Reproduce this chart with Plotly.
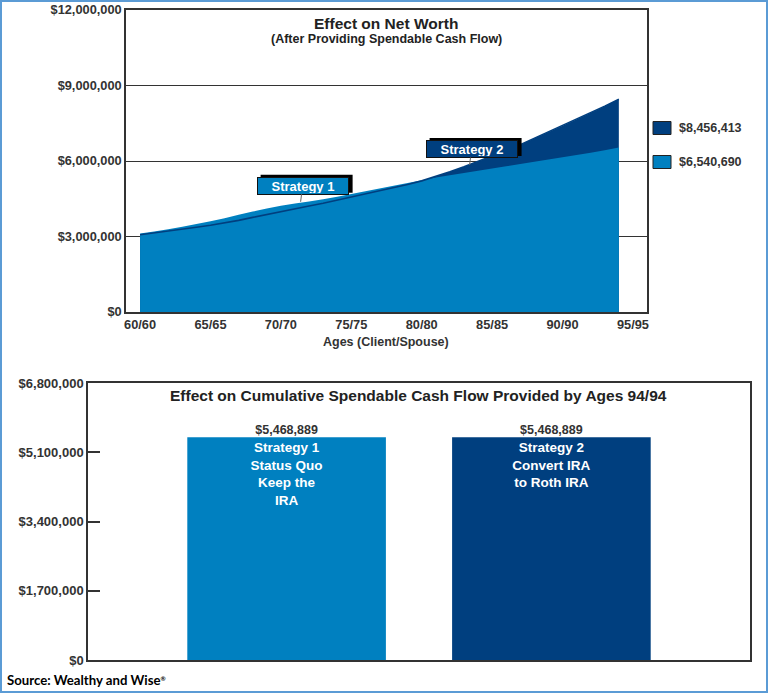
import plotly.graph_objects as go

# ---------------- data ----------------
ages = list(range(60, 95))
# Net worth, in millions of dollars
strategy1_net_worth_m = [3.12, 3.20, 3.29, 3.39, 3.50, 3.61, 3.73, 3.86, 3.99, 4.11,
                         4.22, 4.31, 4.39, 4.48, 4.58, 4.69, 4.80, 4.91, 5.02, 5.13,
                         5.24, 5.34, 5.43, 5.52, 5.61, 5.70, 5.79, 5.88, 5.97, 6.06,
                         6.15, 6.24, 6.33, 6.43, 6.540690]
strategy2_net_worth_m = [3.07, 3.14, 3.21, 3.29, 3.37, 3.45, 3.54, 3.64, 3.76, 3.88,
                         3.99, 4.10, 4.21, 4.32, 4.44, 4.56, 4.68, 4.81, 4.94, 5.07,
                         5.21, 5.38, 5.57, 5.77, 5.98, 6.20, 6.42, 6.65, 6.90, 7.15,
                         7.40, 7.66, 7.92, 8.18, 8.456413]
x_tick_ages = [60, 65, 70, 75, 80, 85, 90, 95]
x_tick_labels = ["60/60", "65/65", "70/70", "75/75", "80/80", "85/85", "90/90", "95/95"]
nw_tick_values = [0, 3000000, 6000000, 9000000, 12000000]

cf_categories = ["Strategy 1", "Strategy 2"]
cf_values = [5468889, 5468889]
cf_descriptions = ["Strategy 1<br>Status Quo<br>Keep the<br>IRA",
                   "Strategy 2<br>Convert IRA<br>to Roth IRA"]
cf_tick_values = [0, 1700000, 3400000, 5100000, 6800000]

callout_labels = ["Strategy 1", "Strategy 2"]
callout_ages = [71.4, 83.4]
callout_values_m = [4.38, 5.84]

# ---------------- styling ----------------
LIGHT = "#0080C0"
DARK = "#003F7F"
AXIS = "#333333"
FONT = "Liberation Sans"
W, H = 769, 694

s1 = [v * 1e6 for v in strategy1_net_worth_m]
s2 = [v * 1e6 for v in strategy2_net_worth_m]


def px(x):
    return x / W


def py(y):
    return 1 - y / H


def money(v):
    return "${:,.0f}".format(v)


fig = go.Figure()

# Top chart: areas
fig.add_trace(go.Scatter(x=ages, y=s2, mode="none", fill="tozeroy", fillcolor=DARK,
                         xaxis="x", yaxis="y", hoverinfo="skip"))
fig.add_trace(go.Scatter(x=ages, y=s1, mode="none", fill="tozeroy", fillcolor=LIGHT,
                         xaxis="x", yaxis="y", hoverinfo="skip"))
fig.add_trace(go.Scatter(x=ages, y=s2, mode="lines", line=dict(color=DARK, width=1.6),
                         xaxis="x", yaxis="y", hoverinfo="skip"))

# Bottom chart: bars
fig.add_trace(go.Bar(x=cf_categories, y=cf_values, xaxis="x2", yaxis="y2",
                     marker=dict(color=[LIGHT, DARK], line=dict(width=0)),
                     width=0.75, text=cf_descriptions, textposition="inside",
                     insidetextanchor="end", constraintext="none",
                     textfont=dict(color="white", size=13.5, family=FONT, weight="bold"),
                     hoverinfo="skip"))
fig.add_trace(go.Scatter(x=cf_categories, y=cf_values, mode="text",
                         text=[money(v) for v in cf_values], textposition="top center",
                         textfont=dict(color=AXIS, size=12.5, family=FONT, weight="bold"),
                         xaxis="x2", yaxis="y2", hoverinfo="skip"))

tickfont = dict(family=FONT, size=12.8, color=AXIS, weight="bold")

fig.update_layout(
    width=W, height=H,
    margin=dict(l=0, r=0, t=0, b=0, pad=0, autoexpand=False),
    paper_bgcolor="white", plot_bgcolor="white",
    showlegend=False,
    font=dict(family=FONT, color=AXIS),
    xaxis=dict(domain=[px(126), px(647)], range=[59, 96], anchor="y",
               tickvals=x_tick_ages, ticktext=x_tick_labels, tickfont=tickfont,
               showgrid=False, zeroline=False, showline=True, linecolor=AXIS,
               linewidth=1.5, mirror=True, ticks=""),
    yaxis=dict(domain=[py(312), py(10)], range=[0, 12000000], anchor="x",
               tickvals=nw_tick_values, ticktext=[money(v) for v in nw_tick_values],
               tickfont=tickfont, showgrid=True, gridcolor=AXIS, gridwidth=1,
               zeroline=False, showline=True, linecolor=AXIS, linewidth=1.5,
               mirror=True, ticks=""),
    xaxis2=dict(domain=[px(88), px(750)], range=[-0.75, 1.75], anchor="y2",
                type="category", showticklabels=False, showgrid=False,
                zeroline=False, showline=True, linecolor=AXIS, linewidth=1.5,
                mirror=True, ticks=""),
    yaxis2=dict(domain=[py(660), py(383)], range=[0, 6800000], anchor="x2",
                tickvals=cf_tick_values, ticktext=[money(v) for v in cf_tick_values],
                tickfont=dict(family=FONT, size=13, color=AXIS, weight="bold"),
                showgrid=False, zeroline=False, showline=True, linecolor=AXIS,
                linewidth=1.5, mirror=True, ticks="inside", ticklen=12,
                tickwidth=1.5, tickcolor=AXIS),
)

annotations = [
    dict(text="Effect on Net Worth", x=px(386.5), y=py(23), xref="paper", yref="paper",
         showarrow=False, xanchor="center", yanchor="middle",
         font=dict(family=FONT, size=15.5, color="#222222", weight="bold")),
    dict(text="(After Providing Spendable Cash Flow)", x=px(386.5), y=py(39),
         xref="paper", yref="paper", showarrow=False, xanchor="center", yanchor="middle",
         font=dict(family=FONT, size=12.5, color="#222222", weight="bold")),
    dict(text="Ages (Client/Spouse)", x=px(386.5), y=py(342), xref="paper", yref="paper",
         showarrow=False, xanchor="center", yanchor="middle",
         font=dict(family=FONT, size=12.5, color=AXIS, weight="bold")),
    dict(text="Effect on Cumulative Spendable Cash Flow Provided by Ages 94/94",
         x=px(419), y=py(395), xref="paper", yref="paper", showarrow=False,
         xanchor="center", yanchor="middle",
         font=dict(family=FONT, size=15.5, color="#222222", weight="bold")),
    dict(text="Source: Wealthy and Wise<span style='font-size:9px'><sup>®</sup></span>",
         x=px(5), y=py(680), xref="paper",
         yref="paper", showarrow=False, xanchor="left", yanchor="middle",
         font=dict(family="Lato", size=13.2, color="black", weight="bold")),
]

shapes = []

# Legend (final values) drawn on the right of the top chart
legend_items = [(strategy2_net_worth_m[-1] * 1e6, DARK, 128),
                (strategy1_net_worth_m[-1] * 1e6, LIGHT, 162)]
for val, col, yc in legend_items:
    shapes.append(dict(type="rect", xref="paper", yref="paper",
                       x0=px(653), x1=px(671), y0=py(yc + 6.5), y1=py(yc - 6.5),
                       fillcolor=col, line=dict(color="#222222", width=1)))
    annotations.append(dict(text=money(round(val)), x=px(677), y=py(yc), xref="paper",
                            yref="paper", showarrow=False, xanchor="left",
                            yanchor="middle",
                            font=dict(family=FONT, size=12.5, color=AXIS, weight="bold")))

# Callouts: black drop-shadow shape (pixel-sized, anchored at the pointer tip),
# then the coloured label box with a short pointer
callout_colors = [LIGHT, DARK]
for lab, age, val, col in zip(callout_labels, callout_ages, callout_values_m, callout_colors):
    shapes.append(dict(type="rect", xref="x", yref="y", xsizemode="pixel",
                       ysizemode="pixel", xanchor=age, yanchor=val * 1e6,
                       x0=-40, x1=52, y0=9, y1=27, layer="above",
                       fillcolor="black", line=dict(width=0)))
    annotations.append(dict(text=lab, x=age, y=val * 1e6, xref="x", yref="y",
                            ax=2, ay=-16, width=88, height=14, borderpad=1,
                            borderwidth=1, bgcolor=col, bordercolor="#111111",
                            showarrow=True, arrowhead=0, arrowwidth=1,
                            arrowcolor="#666666",
                            font=dict(family=FONT, size=13, color="white", weight="bold")))

# Outer frame
shapes.append(dict(type="rect", xref="paper", yref="paper", x0=px(1), x1=px(767),
                   y0=py(692), y1=py(1), line=dict(color="#5B9BD5", width=2),
                   fillcolor="rgba(0,0,0,0)"))

fig.update_layout(annotations=annotations, shapes=shapes)

fig.write_html("out.html", config={"displayModeBar": False},
               post_script="document.body.style.margin='0';"
                           "document.body.style.overflow='hidden';")
